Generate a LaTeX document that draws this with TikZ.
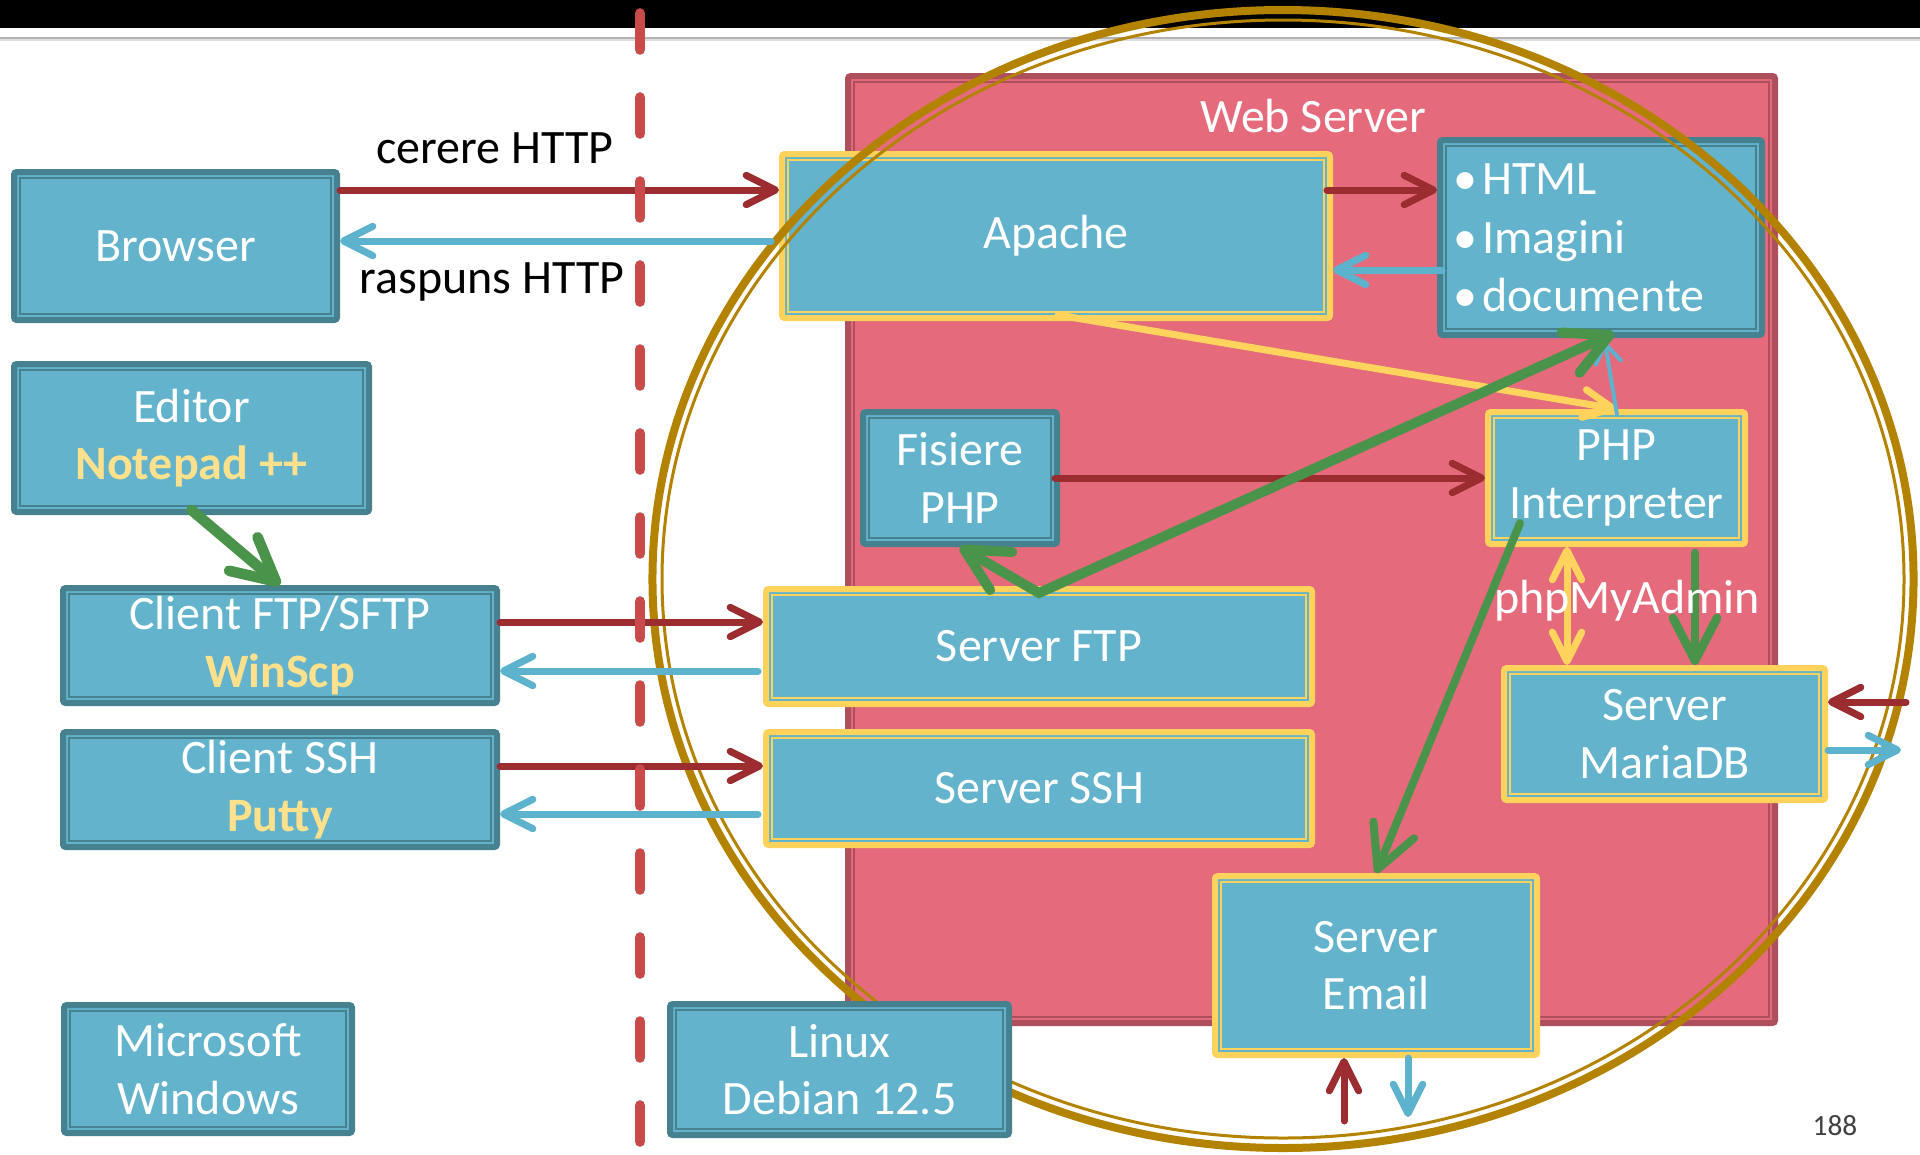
\documentclass[tikz,border=0pt]{standalone}
\usepackage{fontspec}
\setmainfont{Carlito}
\usetikzlibrary{arrows.meta,calc}
\definecolor{boxB}{HTML}{62B3CB}
\definecolor{tealB}{HTML}{45818F}
\definecolor{yelB}{HTML}{FFD25C}
\definecolor{pinkF}{HTML}{E56B7C}
\definecolor{pinkB}{HTML}{AD4F5C}
\definecolor{redA}{HTML}{9B2D30}
\definecolor{blueA}{HTML}{5DB3CD}
\definecolor{greenA}{HTML}{4A934A}
\definecolor{yelA}{HTML}{FFD35C}
\definecolor{dashR}{HTML}{C84A4A}
\definecolor{goldE}{HTML}{B38300}
\definecolor{ylwT}{HTML}{FFE08C}
\definecolor{pgnum}{HTML}{404040}
\newcommand\bigf{\fontsize{36}{43}\selectfont}
\newcommand\yt[1]{{\color{ylwT}\bfseries #1}}
\newcommand\bul{\textbullet\hspace{4pt}}
\tikzset{
  bx/.style={rectangle, draw=tealB, line width=4.5pt, fill=boxB, rounded corners=2pt,
    inner sep=0pt, text=white, font=\bigf, align=center},
  yb/.style={bx, draw=yelB},
  pk/.style={bx, draw=pinkB, fill=pinkF},
  wh/.style 2 args={minimum width=#1pt, minimum height=#2pt},
  aR/.style={draw=redA, line width=5.25pt, line cap=round, -{Straight Barb[length=22pt,width=22pt,round]}},
  aB/.style={draw=blueA, line width=5.25pt, line cap=round, -{Straight Barb[length=22pt,width=22pt,round]}},
  aY/.style={draw=yelA, line width=5.25pt, line cap=round, -{Straight Barb[length=22pt,width=21pt,round]}},
  aG/.style={draw=greenA, line width=7.5pt, line cap=round, -{Straight Barb[length=32pt,width=33pt,round]}},
  aBt/.style={draw=blueA, line width=3pt, line cap=round, -{Straight Barb[length=14pt,width=19pt,round]}},
  lbl/.style={font=\bigf, text=black, inner sep=0pt},
}
\begin{document}
\begin{tikzpicture}[x=0.75pt,y=-0.75pt]
\useasboundingbox (0,0) rectangle (1920,1154);
% top bar
\fill[black] (0,0) rectangle (1920,28);
\draw[gray!60, line width=1.5pt] (0,37.5) -- (1920,37.5);
\draw[gray!25, line width=1pt] (0,40) -- (1920,40);

% web server box
\node[pk, wh={695.25}{710.25}] (web) at (1311.5,549.5) {};
\draw[pinkB, line width=1.5pt] ([shift={(7pt,-7pt)}]web.north west) rectangle ([shift={(-7pt,7pt)}]web.south east);

% boxes
\node[bx, wh={242.25}{111}] (browser) at (175.5,246) {Browser};
\node[bx, wh={266.25}{111}] (editor) at (191.5,438) {Editor\\\yt{Notepad ++}};
\node[bx, wh={325.5}{86.25}] (cftp) at (280,645.5) {Client FTP/SFTP\\\yt{WinScp}};
\node[bx, wh={325.5}{86.25}] (cssh) at (280,789.5) {Client SSH\\\yt{Putty}};
\node[bx, wh={216}{96}] (win) at (208,1069) {Microsoft\\Windows};
\node[yb, wh={411}{123}] (apache) at (1056,236) {Apache};
\node[bx, wh={241.5}{146.25}, text width=222pt, align=left] (html) at (1601,237.5)
  {\fontsize{36}{44.5}\selectfont\bul HTML\\\bul Imagini\\\bul documente};
\node[bx, wh={145.5}{99}] (fis) at (960,478) {Fisiere\\PHP};
\node[yb, wh={192.75}{99}] (php) at (1616.5,478) {PHP\\Interpreter};
\node[yb, wh={409.5}{86.25}] (sftp) at (1039,646.5) {Server FTP};
\node[yb, wh={409.5}{84.75}] (sssh) at (1039,788.5) {Server SSH};
\node[yb, wh={240.75}{99}] (maria) at (1664.5,734) {Server\\MariaDB};
\node[yb, wh={241.5}{134.25}] (email) at (1376,965.5) {Server\\Email};

\foreach \n in {browser,editor,cftp,cssh,win,html,fis}
  \draw[tealB, line width=1.5pt] ([shift={(7pt,-7pt)}]\n.north west) rectangle ([shift={(-7pt,7pt)}]\n.south east);
\foreach \n in {apache,php,sftp,sssh,maria,email}
  \draw[yelB, line width=1.5pt] ([shift={(7pt,-7pt)}]\n.north west) rectangle ([shift={(-7pt,7pt)}]\n.south east);

% ellipse
\draw[goldE, line width=6pt] (1283,579) ellipse [x radius=472.9pt, y radius=426.75pt];
\draw[goldE, line width=2.25pt] (1283,579) ellipse [x radius=465.75pt, y radius=419.25pt];

% linux box (over ellipse)
\node[bx, wh={254.25}{98.25}] (linux) at (839.5,1069.5) {Linux\\Debian 12.5};
\draw[tealB, line width=1.5pt] ([shift={(7pt,-7pt)}]linux.north west) rectangle ([shift={(-7pt,7pt)}]linux.south east);

% free ends
\coordinate (vtx) at ($(sftp.north)+(0,7)$);
\coordinate (mrin) at (1906,702);
\coordinate (mrout) at (1901,750);
\coordinate (ein) at (1344,1121);
\coordinate (eout) at (1408,1117);

% HTTP arrows
\draw[aR] (browser.east |- 0,190) -- (apache.west |- 0,190);
\draw[aB] ($(apache.west |- 0,241)+(-8,0)$) -- (browser.east |- 0,241);
% apache <-> html
\draw[aR] ($(apache.east |- 0,190)+(-6,0)$) -- (html.west |- 0,190);
\draw[aB] ($(html.west |- 0,270)+(5,0)$) -- (apache.east |- 0,270);
% clients
\draw[aR] (cftp.east |- 0,622) -- (sftp.west |- 0,622);
\draw[aB] ($(sftp.west |- 0,671)+(-5,0)$) -- (cftp.east |- 0,671);
\draw[aR] (cssh.east |- 0,766) -- (sssh.west |- 0,766);
\draw[aB] ($(sssh.west |- 0,814)+(-5,0)$) -- (cssh.east |- 0,814);
% fisiere -> php
\draw[aR] ($(fis.east |- 0,478)+(-5,0)$) -- (php.west |- 0,478);
% editor -> client ftp
\draw[aG, line width=8pt] ($(editor.south)+(0,-5)$) -- (cftp.north);
% apache -> php (yellow)
\draw[aY] ($(apache.south)+(2,-6)$) -- (php.north);
% php -> html thin blue
\draw[aBt] ($(php.north)+(0.5,6)$) -- ($(html.south)+(4,4)$);
% green V
\draw[aG, {Straight Barb[length=32pt,width=33pt,round]}-{Straight Barb[length=32pt,width=33pt,round]}, line join=miter] (fis.south) -- (vtx) -- ($(html.south)+(13,-5)$);
% php -> email
\draw[aG, line width=6pt] ($(php.south west)+(35,-24)$) -- (email.north);
% php <-> maria
\draw[aY, {Straight Barb[length=22pt,width=22pt,round]}-{Straight Barb[length=22pt,width=22pt,round]}] (1567,0 |- php.south) -- (1567,0 |- maria.north);
\draw[aG, line width=6.5pt] ($(1695,0 |- php.south)+(0,6)$) -- (1695,0 |- maria.north);
% maria external
\draw[aR] (mrin) -- (maria.east |- mrin);
\draw[aB] (maria.east |- mrout) -- (mrout);
% email external
\draw[aR] (ein) -- (ein |- email.south);
\draw[aB] (eout |- email.south) -- (eout);

% dashed divider
\draw[dashR, line width=8pt, line cap=round, dash pattern=on 27pt off 36pt] (640,13.5) -- (640,1146);

% labels
\node[lbl, anchor=base] (req) at (495,163) {cerere HTTP};
\node[lbl, anchor=base] (resp) at (492,293) {raspuns HTTP};
\node[lbl, text=white] (wst) at (1313,116) {Web Server};
\node[lbl, text=white] (pma) at (1627,601) {phpMyAdmin};
\node[font=\fontsize{22}{26}\selectfont, text=pgnum, inner sep=0pt] (pg) at (1835,1126) {188};
\end{tikzpicture}
\end{document}
